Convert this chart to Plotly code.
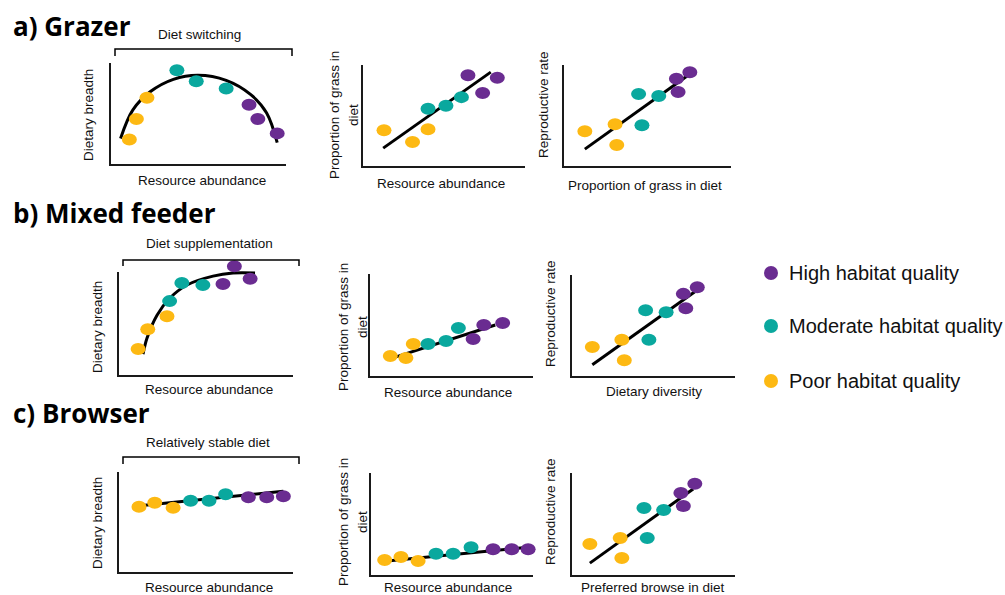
import plotly.graph_objects as go

W, H = 1005, 595
PURPLE = "#6a2c91"
TEAL = "#0aa89e"
YELLOW = "#fdb913"
TXT = "#111111"
FONT = "Liberation Sans, Arial, sans-serif"
BOLD_FONT = "Open Sans, Noto Sans, sans-serif"

# ---------------- data (arbitrary 0-10 units per panel) ----------------
# a) Grazer
a1_poor_x = [1.1, 1.5, 2.1];    a1_poor_y = [2.5, 4.5, 6.6]
a1_mod_x = [3.8, 4.9, 6.6];     a1_mod_y = [9.3, 8.2, 7.5]
a1_high_x = [7.9, 8.4, 9.5];    a1_high_y = [5.9, 4.5, 3.1]
a1_fit_x = [0.6, 1.3, 2.3, 3.6, 5.0, 6.6, 8.0, 8.9, 9.5]
a1_fit_y = [2.6, 5.4, 7.2, 8.4, 8.8, 8.3, 6.9, 5.1, 2.2]

a2_poor_x = [1.35, 3.1, 4.05];  a2_poor_y = [3.6, 2.45, 3.7]
a2_mod_x = [4.05, 5.15, 6.1];   a2_mod_y = [5.7, 6.0, 6.85]
a2_high_x = [6.5, 7.4, 8.3];    a2_high_y = [9.0, 7.25, 8.75]
a2_fit_x = [1.3, 7.9];          a2_fit_y = [1.85, 9.3]

a3_poor_x = [1.3, 3.1, 3.2];    a3_poor_y = [3.5, 4.2, 2.15]
a3_mod_x = [4.5, 4.7, 5.7];     a3_mod_y = [7.15, 4.1, 6.95]
a3_high_x = [6.75, 6.85, 7.55]; a3_high_y = [8.65, 7.35, 9.3]
a3_fit_x = [1.3, 7.45];         a3_fit_y = [1.75, 9.0]

# b) Mixed feeder
b1_poor_x = [1.15, 1.7, 2.8];   b1_poor_y = [2.6, 4.5, 5.75]
b1_mod_x = [2.95, 3.65, 4.85];  b1_mod_y = [7.2, 8.95, 8.75]
b1_high_x = [6.0, 6.65, 7.55];  b1_high_y = [8.85, 10.55, 9.35]
b1_fit_x = [1.43, 1.66, 2.23, 2.97, 3.94, 5.43, 6.57, 7.83]
b1_fit_y = [2.1, 3.65, 5.85, 7.5, 8.75, 9.6, 9.9, 9.9]

b2_poor_x = [1.3, 2.25, 2.7];   b2_poor_y = [2.05, 1.85, 3.2]
b2_mod_x = [3.6, 4.7, 5.45];    b2_mod_y = [3.2, 3.5, 4.75]
b2_high_x = [6.35, 7.0, 8.15];  b2_high_y = [3.7, 5.05, 5.25]
b2_fit_x = [1.65, 7.7];         b2_fit_y = [1.95, 5.05]

b3_poor_x = [1.3, 3.1, 3.25];   b3_poor_y = [2.95, 3.65, 1.65]
b3_mod_x = [4.55, 4.75, 5.8];   b3_mod_y = [6.55, 3.65, 6.35]
b3_high_x = [6.85, 7.0, 7.7];   b3_high_y = [8.15, 6.75, 8.8]
b3_fit_x = [1.3, 7.55];         b3_fit_y = [1.2, 8.35]

# c) Browser
c1_poor_x = [1.2, 2.1, 3.15];   c1_poor_y = [6.55, 6.95, 6.45]
c1_mod_x = [4.15, 5.2, 6.15];   c1_mod_y = [7.15, 7.15, 7.8]
c1_high_x = [7.45, 8.5, 9.45];  c1_high_y = [7.5, 7.5, 7.6]
c1_fit_x = [1.25, 9.45];        c1_fit_y = [6.65, 8.1]

c2_poor_x = [0.9, 1.9, 2.95];   c2_poor_y = [1.55, 1.85, 1.45]
c2_mod_x = [4.05, 5.1, 6.2];    c2_mod_y = [2.15, 2.15, 2.8]
c2_high_x = [7.55, 8.7, 9.7];   c2_high_y = [2.6, 2.6, 2.6]
c2_fit_x = [1.05, 9.7];         c2_fit_y = [1.45, 2.8]

c3_poor_x = [1.15, 3.0, 3.1];   c3_poor_y = [3.1, 3.7, 1.75]
c3_mod_x = [4.45, 4.65, 5.65];  c3_mod_y = [6.6, 3.7, 6.4]
c3_high_x = [6.7, 6.85, 7.55];  c3_high_y = [8.05, 6.8, 8.95]
c3_fit_x = [1.15, 7.45];        c3_fit_y = [1.25, 8.45]

# text
row_titles = ["a) Grazer", "b) Mixed feeder", "c) Browser"]
bracket_labels = ["Diet switching", "Diet supplementation", "Relatively stable diet"]
x_titles = ["Resource abundance", "Resource abundance", "Proportion of grass in diet",
            "Resource abundance", "Resource abundance", "Dietary diversity",
            "Resource abundance", "Resource abundance", "Preferred browse in diet"]
y_titles = ["Dietary breadth", "Proportion of grass in|diet", "Reproductive rate"] * 3
legend_labels = ["High habitat quality", "Moderate habitat quality", "Poor habitat quality"]
legend_colors = [PURPLE, TEAL, YELLOW]

panels = [
    (a1_poor_x, a1_poor_y, a1_mod_x, a1_mod_y, a1_high_x, a1_high_y, a1_fit_x, a1_fit_y, "spline"),
    (a2_poor_x, a2_poor_y, a2_mod_x, a2_mod_y, a2_high_x, a2_high_y, a2_fit_x, a2_fit_y, "linear"),
    (a3_poor_x, a3_poor_y, a3_mod_x, a3_mod_y, a3_high_x, a3_high_y, a3_fit_x, a3_fit_y, "linear"),
    (b1_poor_x, b1_poor_y, b1_mod_x, b1_mod_y, b1_high_x, b1_high_y, b1_fit_x, b1_fit_y, "spline"),
    (b2_poor_x, b2_poor_y, b2_mod_x, b2_mod_y, b2_high_x, b2_high_y, b2_fit_x, b2_fit_y, "linear"),
    (b3_poor_x, b3_poor_y, b3_mod_x, b3_mod_y, b3_high_x, b3_high_y, b3_fit_x, b3_fit_y, "linear"),
    (c1_poor_x, c1_poor_y, c1_mod_x, c1_mod_y, c1_high_x, c1_high_y, c1_fit_x, c1_fit_y, "linear"),
    (c2_poor_x, c2_poor_y, c2_mod_x, c2_mod_y, c2_high_x, c2_high_y, c2_fit_x, c2_fit_y, "linear"),
    (c3_poor_x, c3_poor_y, c3_mod_x, c3_mod_y, c3_high_x, c3_high_y, c3_fit_x, c3_fit_y, "linear"),
]

# ---------------- layout constants (pixels) ----------------
BOXES = [(110, 286, 63, 165), (362, 525, 65, 167), (563, 731, 65, 167),
         (118, 293, 272, 376), (369, 533, 274, 377), (571, 735, 275, 377),
         (118, 293, 472, 573), (370, 533, 473, 576), (571, 735, 473, 576)]
XT_POS = [(202, 180), (441, 183), (645, 185),
          (209, 389), (448, 392), (654, 391),
          (209, 587), (448, 587), (653, 587)]
YT_POS = [(89, 115), (335, 115, 354), (543, 105),
          (97, 327), (343, 327, 362), (550, 314),
          (97, 523), (343, 522, 362), (550, 512)]
ROW_POS = [(11, 26), (11, 213), (11, 413)]
BRACKETS = [(115, 292, 49, 56, 199, 34), (123, 299, 260, 266, 209, 243),
            (123, 299, 457, 464, 208, 442)]
LEG_Y = [273, 326, 381]
PAD = 14
FS = 13.5


def px(x):
    return x / W


def py(y):
    return 1 - y / H


fig = go.Figure()
layout = {}
shapes = []
annotations = []

for i, (panel, box) in enumerate(zip(panels, BOXES)):
    sfx = "" if i == 0 else str(i + 1)
    x0, x1, yt, yb = box
    sx = (x1 - x0) / 10.0
    sy = (yb - yt) / 10.0
    layout[f"xaxis{sfx}"] = dict(domain=[px(x0 - PAD), px(x1 + PAD)],
                                 range=[-PAD / sx, 10 + PAD / sx],
                                 anchor=f"y{sfx}", visible=False, fixedrange=True)
    layout[f"yaxis{sfx}"] = dict(domain=[py(yb + PAD), py(yt - PAD)],
                                 range=[-PAD / sy, 10 + PAD / sy],
                                 anchor=f"x{sfx}", visible=False, fixedrange=True)
    xr, yr = f"x{sfx}", f"y{sfx}"
    # L-shaped axes
    shapes.append(dict(type="path", xref=xr, yref=yr, path="M 0,10 L 0,0 L 10,0",
                       line=dict(color="#1a1a1a", width=2), layer="below"))
    pxs, pys, mxs, mys, hxs, hys, fx, fy, shp = panel
    fig.add_trace(go.Scatter(x=fx, y=fy, mode="lines", xaxis=xr, yaxis=yr,
                             line=dict(color="black", width=3, shape=shp),
                             showlegend=False, hoverinfo="skip"))
    for xs_, ys_, col in ((pxs, pys, YELLOW), (mxs, mys, TEAL), (hxs, hys, PURPLE)):
        for xv, yv in zip(xs_, ys_):
            shapes.append(dict(type="circle", xref=xr, yref=yr,
                               xsizemode="pixel", ysizemode="pixel",
                               xanchor=xv, yanchor=yv,
                               x0=-7.5, x1=7.5, y0=-6, y1=6,
                               fillcolor=col, line=dict(width=0)))
    # axis titles
    tx, ty = XT_POS[i]
    annotations.append(dict(x=px(tx), y=py(ty), xref="paper", yref="paper",
                            text=x_titles[i], showarrow=False,
                            xanchor="center", yanchor="middle",
                            font=dict(family=FONT, size=FS, color=TXT)))
    yp = YT_POS[i]
    parts = y_titles[i].split("|")
    xs_pos = [yp[0]] if len(parts) == 1 else [yp[0], yp[2]]
    for part, xpos in zip(parts, xs_pos):
        annotations.append(dict(x=px(xpos), y=py(yp[1]), xref="paper", yref="paper",
                                text=part, showarrow=False, textangle=-90,
                                xanchor="center", yanchor="middle",
                                font=dict(family=FONT, size=FS, color=TXT)))

# row titles and brackets
for r in range(3):
    rx, ry = ROW_POS[r]
    annotations.append(dict(x=px(rx), y=py(ry), xref="paper", yref="paper",
                            text=f"<b>{row_titles[r]}</b>", showarrow=False,
                            xanchor="left", yanchor="middle",
                            font=dict(family=BOLD_FONT, size=26, color="black")))
    bx0, bx1, btop, bbot, lx, ly = BRACKETS[r]
    shapes.append(dict(type="path", xref="paper", yref="paper",
                       path=f"M {px(bx0)},{py(bbot)} L {px(bx0)},{py(btop)} "
                            f"L {px(bx1)},{py(btop)} L {px(bx1)},{py(bbot)}",
                       line=dict(color="black", width=1.5)))
    annotations.append(dict(x=px(lx), y=py(ly), xref="paper", yref="paper",
                            text=bracket_labels[r], showarrow=False,
                            xanchor="center", yanchor="middle",
                            font=dict(family=FONT, size=FS, color=TXT)))

# legend
for lab, col, ly in zip(legend_labels, legend_colors, LEG_Y):
    shapes.append(dict(type="circle", xref="paper", yref="paper",
                       xsizemode="pixel", ysizemode="pixel",
                       xanchor=px(771), yanchor=py(ly),
                       x0=-7, x1=7, y0=-7, y1=7,
                       fillcolor=col, line=dict(width=0)))
    annotations.append(dict(x=px(787), y=py(ly), xref="paper", yref="paper",
                            text=lab, showarrow=False, xanchor="left", yanchor="middle",
                            font=dict(family=FONT, size=20, color=TXT)))

fig.update_layout(width=W, height=H, margin=dict(l=0, r=0, t=0, b=0),
                  paper_bgcolor="white", plot_bgcolor="rgba(0,0,0,0)",
                  showlegend=False, shapes=shapes, annotations=annotations, **layout)
fig.write_html("out.html", config={"displayModeBar": False})
